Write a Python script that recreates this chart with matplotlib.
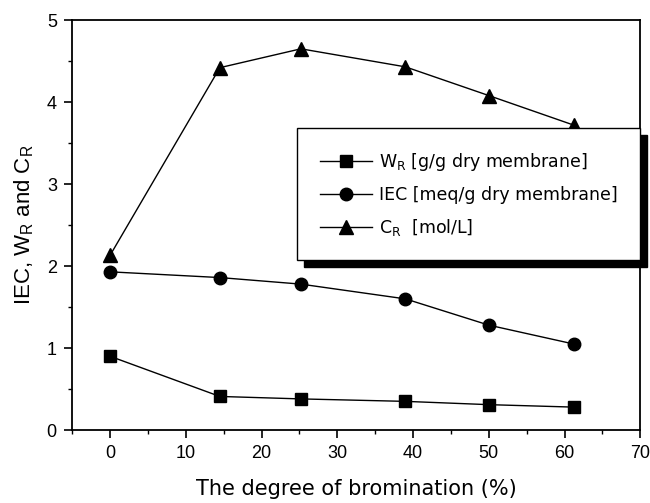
import matplotlib.pyplot as plt
from matplotlib.ticker import MultipleLocator

# degree of bromination (%)
bromination = [0, 14.5, 25.2, 39, 50, 61.2]
# series values
w_r = [0.90, 0.41, 0.38, 0.35, 0.31, 0.28]
iec = [1.93, 1.86, 1.78, 1.60, 1.28, 1.05]
c_r = [2.13, 4.42, 4.65, 4.43, 4.08, 3.72]

fig = plt.figure(figsize=(6.5, 5.03), dpi=100)
ax = fig.add_axes([0.111, 0.145, 0.874, 0.815])

ax.plot(bromination, w_r, '-s', color='black', lw=1, ms=8, label='W$_\\mathregular{R}$ [g/g dry membrane]')
ax.plot(bromination, iec, '-o', color='black', lw=1, ms=9, label='IEC [meq/g dry membrane]')
ax.plot(bromination, c_r, '-^', color='black', lw=1, ms=10, label='C$_\\mathregular{R}$  [mol/L]')

ax.set_xlim(-5, 70)
ax.set_ylim(0, 5)
ax.xaxis.set_major_locator(MultipleLocator(10))
ax.xaxis.set_minor_locator(MultipleLocator(5))
ax.yaxis.set_major_locator(MultipleLocator(1))
ax.yaxis.set_minor_locator(MultipleLocator(0.5))
ax.tick_params(which='major', direction='out', length=6, width=1.2, labelsize=13, pad=5)
ax.tick_params(which='minor', direction='out', length=3, width=1)
for lab in ax.get_xticklabels() + ax.get_yticklabels():
    lab.set_family('Liberation Sans')
for sp in ax.spines.values():
    sp.set_linewidth(1.3)

ax.set_xlabel('The degree of bromination (%)', fontsize=15, family='DejaVu Sans', labelpad=12)
ax.set_ylabel('IEC, W$_\\mathregular{R}$ and C$_\\mathregular{R}$', fontsize=16,
              family='Liberation Sans', labelpad=8)

leg = ax.legend(loc='center right', bbox_to_anchor=(1.0, 0.575),
                frameon=True, fancybox=False, edgecolor='black', framealpha=1,
                shadow={'color': 'black', 'ox': 5, 'oy': -5, 'alpha': 1},
                prop={'family': 'DejaVu Sans', 'size': 12.5}, handlelength=3.0,
                labelspacing=0.75, borderpad=1.3, borderaxespad=0, handletextpad=0.4)
leg.get_frame().set_linewidth(1)

fig.savefig('out.png', dpi=100)
